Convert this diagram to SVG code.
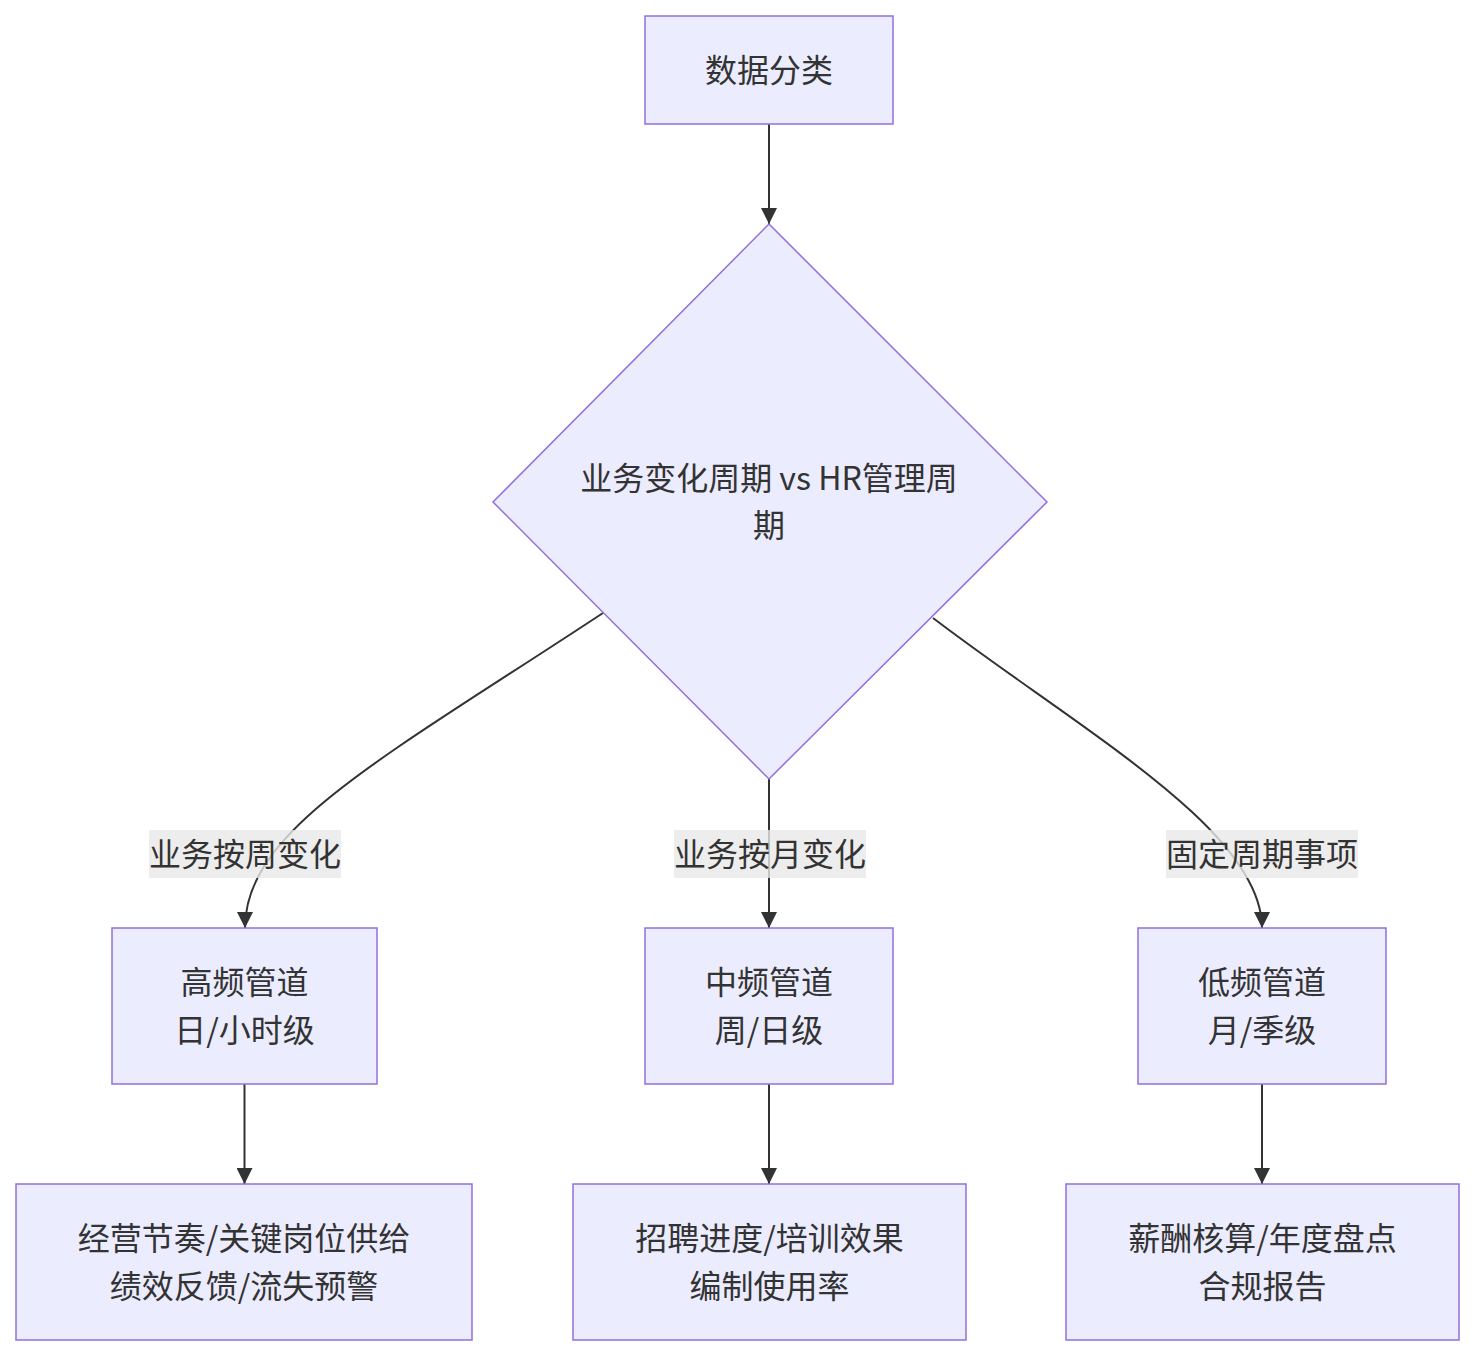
<svg xmlns="http://www.w3.org/2000/svg" width="1474" height="1356" viewBox="0 0 1474 1356">
<style>
.node rect, .node polygon { fill: #ECECFF; stroke: #9370DB; stroke-width: 1.5; }
.node text, .lbl text { font-family: "Noto Sans CJK SC", "Liberation Sans", sans-serif; font-size: 32px; fill: #333333; text-anchor: middle; dominant-baseline: central; }
.edge { fill: none; stroke: #333333; stroke-width: 2; marker-end: url(#arrow); }
.lbl rect { fill: #e8e8e8; opacity: 0.8; }
</style>
<defs>
<marker id="arrow" viewBox="0 0 10 10" refX="10" refY="5" markerWidth="16" markerHeight="16" markerUnits="userSpaceOnUse" orient="auto">
<path d="M0,0 L10,5 L0,10 z" fill="#333333"/>
</marker>
</defs>
<rect width="1474" height="1356" fill="#ffffff"/>
<g id="connectors">
<path class="edge" d="M769,124 L769,224"/>
<path class="edge" d="M603,613 C380,760 245,830 245,928"/>
<path class="edge" d="M769,779 L769,928"/>
<path class="edge" d="M933,618 C1080,730 1262,830 1262,928"/>
<path class="edge" d="M244.5,1084 L244.5,1184"/>
<path class="edge" d="M769,1084 L769,1184"/>
<path class="edge" d="M1262,1084 L1262,1184"/>
</g>
<g id="edge-labels">
<g class="lbl" id="lbl-weekly"><rect x="149" y="830" width="192" height="48"/><text x="245" y="852">业务按周变化</text></g>
<g class="lbl" id="lbl-monthly"><rect x="674" y="830" width="192" height="48"/><text x="770" y="852">业务按月变化</text></g>
<g class="lbl" id="lbl-fixed"><rect x="1166" y="830" width="192" height="48"/><text x="1262" y="852">固定周期事项</text></g>
</g>
<g class="node" id="node-classify"><rect x="645" y="16" width="248" height="108"/><text x="769" y="68">数据分类</text></g>
<g class="node" id="node-decision"><polygon points="769,224 1047,502 769,779 493,502"/><text x="769" y="476">业务变化周期 vs HR管理周</text><text x="769" y="523">期</text></g>
<g class="node" id="node-high"><rect x="112" y="928" width="265" height="156"/><text x="244.5" y="980">高频管道</text><text x="244.5" y="1028">日/小时级</text></g>
<g class="node" id="node-mid"><rect x="645" y="928" width="248" height="156"/><text x="769" y="980">中频管道</text><text x="769" y="1028">周/日级</text></g>
<g class="node" id="node-low"><rect x="1138" y="928" width="248" height="156"/><text x="1262" y="980">低频管道</text><text x="1262" y="1028">月/季级</text></g>
<g class="node" id="node-high-out"><rect x="16" y="1184" width="456" height="156"/><text x="244" y="1236">经营节奏/关键岗位供给</text><text x="244" y="1284">绩效反馈/流失预警</text></g>
<g class="node" id="node-mid-out"><rect x="573" y="1184" width="393" height="156"/><text x="769.5" y="1236">招聘进度/培训效果</text><text x="769.5" y="1284">编制使用率</text></g>
<g class="node" id="node-low-out"><rect x="1066" y="1184" width="393" height="156"/><text x="1262.5" y="1236">薪酬核算/年度盘点</text><text x="1262.5" y="1284">合规报告</text></g>
</svg>
